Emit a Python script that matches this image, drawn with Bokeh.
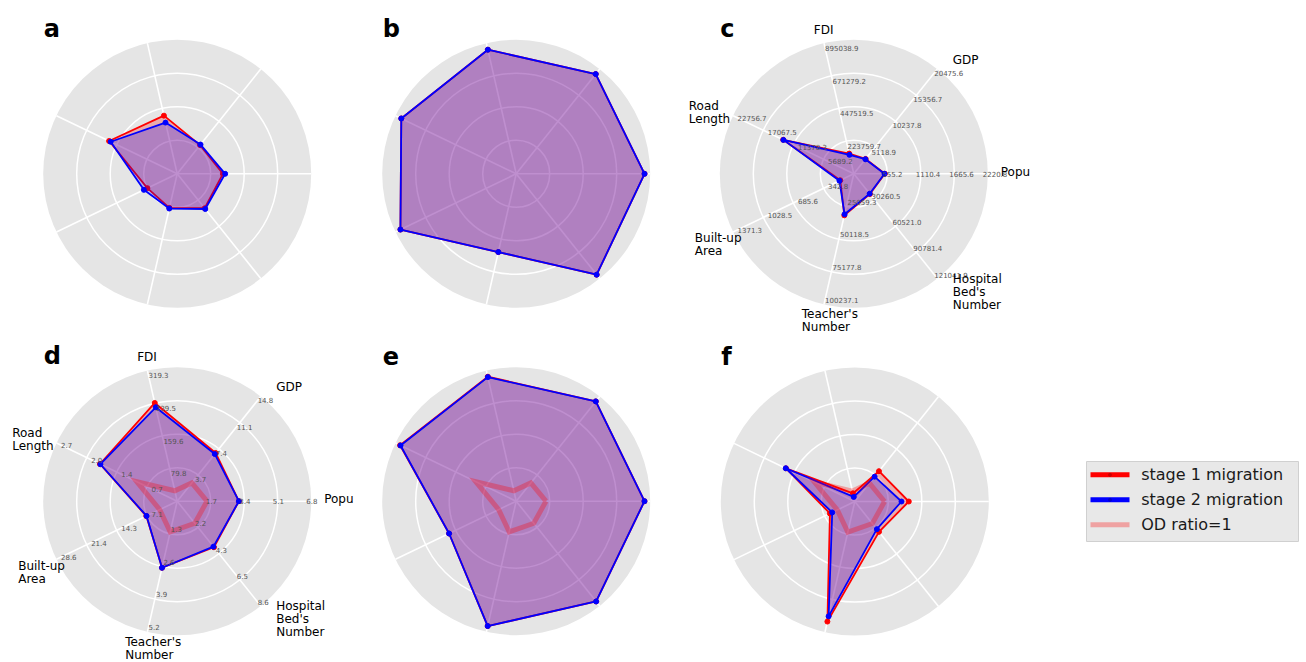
import numpy as np
from bokeh.plotting import figure
from bokeh.models import Range1d
from bokeh.core.properties import value
from bokeh.embed import file_html
from bokeh.resources import INLINE

# ---------------------------------------------------------------- data
axis_lines = [["Popu"], ["GDP"], ["FDI"], ["Road", "Length"], ["Built-up", "Area"],
              ["Teacher's", "Number"], ["Hospital", "Bed's", "Number"]]

# ring labels (the last entry of each list sits on the outer edge)
ticks_top = [
    ["555.2", "1110.4", "1665.6", "2220.8"],
    ["5118.9", "10237.8", "15356.7", "20475.6"],
    ["223759.7", "447519.5", "671279.2", "895038.9"],
    ["5689.2", "11378.3", "17067.5", "22756.7"],
    ["342.8", "685.6", "1028.5", "1371.3"],
    ["25059.3", "50118.5", "75177.8", "100237.1"],
    ["30260.5", "60521.0", "90781.4", "121041.9"],
]
ticks_bottom = [
    ["1.7", "3.4", "5.1", "6.8"],
    ["3.7", "7.4", "11.1", "14.8"],
    ["79.8", "159.6", "239.5", "319.3"],
    ["0.7", "1.4", "2.0", "2.7"],
    ["7.1", "14.3", "21.4", "28.6"],
    ["1.3", "2.6", "3.9", "5.2"],
    ["2.2", "4.3", "6.5", "8.6"],
]

# top row (absolute values): Popu, GDP, FDI, Road, Built-up, Teacher, Hospital
a_stage1 = [757, 5610, 398300, 12835, 338.7, 26160, 39820]
a_stage2 = [795, 5713, 350900, 12540, 378.5, 26660, 40670]
b_stage1 = [2127, 19490, 850300, 21660, 1315, 60040, 116560]
b_stage2 = [2127, 19490, 850300, 21660, 1315, 60040, 116560]
c_stage1 = [515, 2908, 138700, 13310, 153.6, 31880, 23360]
c_stage2 = [508.6, 2846, 129780, 13270, 163.2, 31070, 23000]

# bottom row (ratios)
d_stage1 = [3.13, 6.81, 240.1, 1.728, 7.32, 2.65, 3.78]
d_stage2 = [3.13, 6.66, 229.6, 1.717, 7.26, 2.65, 3.73]
e_stage1 = [6.51, 14.10, 304.3, 2.597, 15.90, 4.97, 8.23]
e_stage2 = [6.51, 14.10, 303.3, 2.587, 15.90, 4.97, 8.23]
f_stage1 = [2.74, 4.28, 20.0, 1.539, 5.89, 4.78, 2.49]
f_stage2 = [2.37, 3.51, 11.2, 1.544, 5.35, 4.57, 2.27]
od_ratio_one = [1.51, 2.59, 25.5, 0.905, 4.15, 1.22, 1.81]

legend_labels = ["stage 1 migration", "stage 2 migration", "OD ratio=1"]

# ---------------------------------------------------------------- layout
W, H = 1306, 662
R = 134.0
FONT = "DejaVu Sans"
n = len(axis_lines)
ang = np.deg2rad(np.arange(n) * 360.0 / n)

top_max = np.array([float(t[-1]) for t in ticks_top])
bottom_max = np.array([float(t[-1]) for t in ticks_bottom])

panels = [
    ("a", 176.7, 173.3, a_stage1, a_stage2, top_max, None, False),
    ("b", 515.7, 173.3, b_stage1, b_stage2, top_max, None, False),
    ("c", 853.3, 173.3, c_stage1, c_stage2, top_max, ticks_top, False),
    ("d", 176.7, 500.7, d_stage1, d_stage2, bottom_max, ticks_bottom, True),
    ("e", 515.7, 500.7, e_stage1, e_stage2, bottom_max, None, True),
    ("f", 854.3, 501.0, f_stage1, f_stage2, bottom_max, None, True),
]

# left edge / vertical centre of each axis name, relative to the panel centre
name_offsets = [(147, -2), (99, -114), (-40, -144), (-165, -61.5),
                (-159, 71), (-52, 147), (99, 118)]
LINE_STEP = 13.0

p = figure(width=W, height=H, x_range=Range1d(0, W), y_range=Range1d(H, 0),
           output_backend="svg", toolbar_location=None,
           x_axis_location=None, y_axis_location=None,
           min_border=0, outline_line_color=None,
           background_fill_color="white", border_fill_color="white")
p.xgrid.grid_line_color = None
p.ygrid.grid_line_color = None


def polar(cx, cy, frac):
    frac = np.asarray(frac, dtype=float)
    return cx + R * frac * np.cos(ang), cy - R * frac * np.sin(ang)


def closed(a):
    return list(a) + [a[0]]


for letter, cx, cy, s1, s2, vmax, ticks, show_od in panels:
    # background disc, rings and spokes
    p.circle(x=[cx], y=[cy], radius=R, fill_color="#E5E5E5", line_color=None)
    p.circle(x=[cx] * 3, y=[cy] * 3, radius=[R / 4, R / 2, 3 * R / 4],
             fill_color=None, line_color="white", line_width=1.5)
    ex, ey = polar(cx, cy, np.ones(n))
    p.segment(x0=[cx] * n, y0=[cy] * n, x1=ex, y1=ey, line_color="white", line_width=1.6)

    x1, y1 = polar(cx, cy, np.array(s1) / vmax)
    x2, y2 = polar(cx, cy, np.array(s2) / vmax)

    p.patch(x=list(x1), y=list(y1), fill_color="red", fill_alpha=0.25, line_color=None)
    p.line(x=closed(x1), y=closed(y1), line_color="red", line_width=1.8)
    p.scatter(x=x1, y=y1, size=5, color="red")

    p.patch(x=list(x2), y=list(y2), fill_color="blue", fill_alpha=0.25, line_color=None)
    p.line(x=closed(x2), y=closed(y2), line_color="blue", line_width=1.8)
    p.scatter(x=x2, y=y2, size=5, color="blue")

    if show_od:
        xo, yo = polar(cx, cy, np.array(od_ratio_one) / bottom_max)
        p.line(x=closed(xo), y=closed(yo), line_color="red", line_alpha=0.3,
               line_width=5, line_join="miter")

    if ticks is not None:
        tx, ty, tt = [], [], []
        for i in range(n):
            for k, lab in enumerate(ticks[i]):
                r = (k + 1) * R / 4 - 5
                tx.append(cx + r * np.cos(ang[i]))
                ty.append(cy - r * np.sin(ang[i]))
                tt.append(lab)
        p.text(x=tx, y=ty, text=tt, text_font=value(FONT), text_font_size="7px",
               text_color="#555555", text_align="left", text_baseline="middle")

        nx, ny, nt = [], [], []
        for i, lines in enumerate(axis_lines):
            dx, dy = name_offsets[i]
            for j, ln in enumerate(lines):
                nx.append(cx + dx)
                ny.append(cy + dy + (j - (len(lines) - 1) / 2) * LINE_STEP)
                nt.append(ln)
        p.text(x=nx, y=ny, text=nt, text_font=value(FONT), text_font_size="12px",
               text_color="black", text_align="left", text_baseline="middle")

    p.text(x=[cx - 133.5], y=[cy - 145], text=[letter], text_font=value(FONT),
           text_font_size="24px", text_font_style="bold", text_color="black",
           text_align="left", text_baseline="alphabetic")

# legend box and entries
p.quad(left=[1086], right=[1298], top=[461], bottom=[541],
       fill_color="#E8E8E8", line_color="#D0D0D0", line_width=1)
ly = [474.3, 499.3, 524.3]
lc = ["red", "blue", "red"]
la = [1.0, 1.0, 0.3]
for yy, col, al in zip(ly, lc, la):
    p.segment(x0=[1090], y0=[yy], x1=[1129], y1=[yy], line_color=col,
              line_alpha=al, line_width=5)
p.scatter(x=[1109.5, 1109.5], y=ly[:2], size=3, color=["#cc0000", "#0000cc"])
p.text(x=[1140.7] * 3, y=ly, text=legend_labels, text_font=value(FONT),
       text_font_size="16px", text_color="#1a1a1a", text_align="left",
       text_baseline="middle")

open("out.html", "w").write(file_html(p, INLINE))
